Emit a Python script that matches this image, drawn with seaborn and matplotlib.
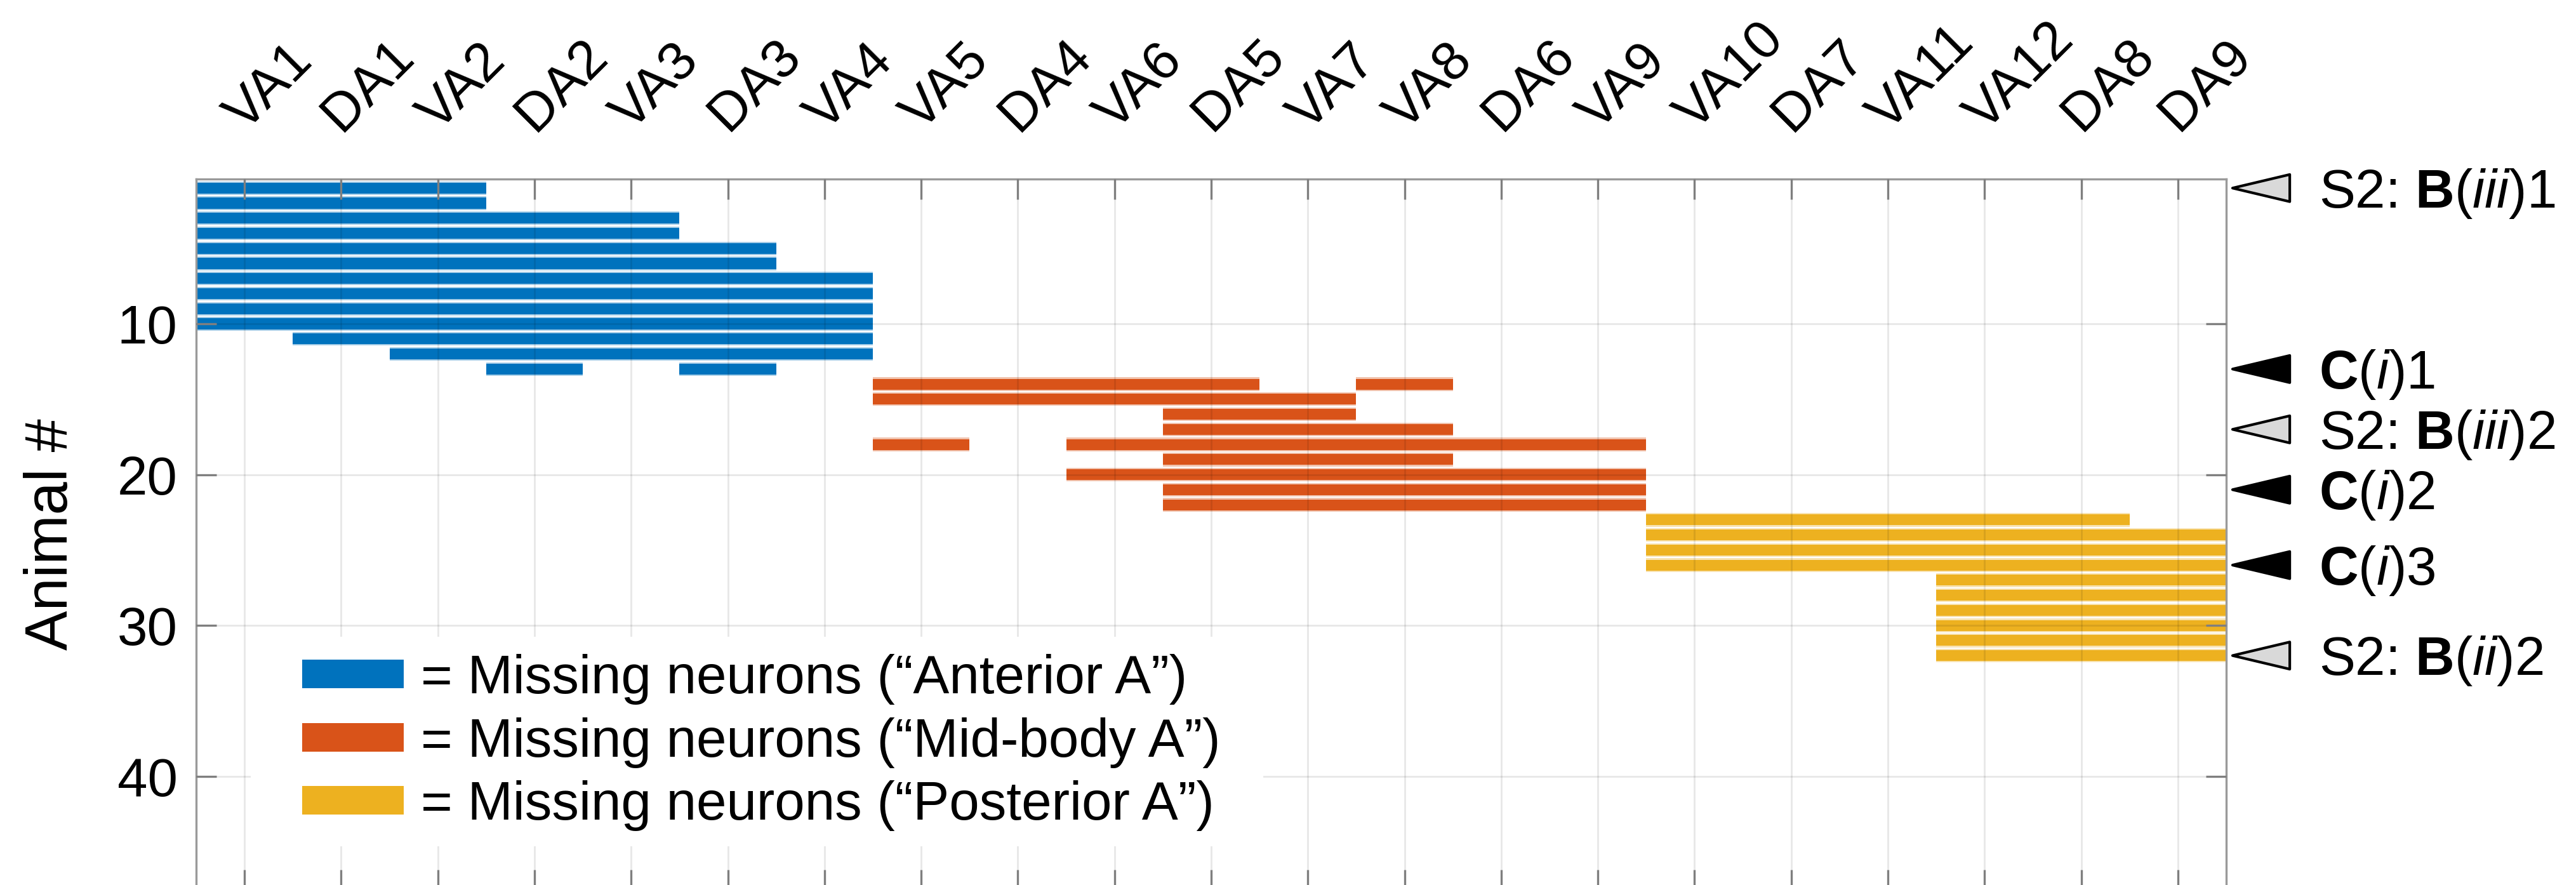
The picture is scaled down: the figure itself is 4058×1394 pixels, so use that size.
import matplotlib
matplotlib.use("Agg")
import matplotlib.pyplot as plt
import matplotlib.transforms as mtransforms
from matplotlib.patches import Patch, Polygon, Rectangle
import numpy as np
import seaborn as sns

# neuron order along the body
neurons = ["VA1", "DA1", "VA2", "DA2", "VA3", "DA3", "VA4", "VA5", "DA4", "VA6", "DA5",
           "VA7", "VA8", "DA6", "VA9", "VA10", "DA7", "VA11", "VA12", "DA8", "DA9"]

# missing-neuron runs per animal (1-based neuron index, inclusive)
anterior_rows = [1, 2, 3, 4, 5, 6, 7, 8, 9, 10, 11, 12, 13, 13]
anterior_start = [1, 1, 1, 1, 1, 1, 1, 1, 1, 1, 2, 3, 4, 6]
anterior_end = [3, 3, 5, 5, 6, 6, 7, 7, 7, 7, 7, 7, 4, 6]

midbody_rows = [14, 14, 15, 16, 17, 18, 18, 19, 20, 21, 22]
midbody_start = [8, 13, 8, 11, 11, 8, 10, 11, 10, 11, 11]
midbody_end = [11, 13, 12, 12, 13, 8, 15, 13, 15, 15, 15]

posterior_rows = [23, 24, 25, 26, 27, 28, 29, 30, 31, 32]
posterior_start = [16, 16, 16, 16, 19, 19, 19, 19, 19, 19]
posterior_end = [20, 21, 21, 21, 21, 21, 21, 21, 21, 21]

group_labels = ["= Missing neurons (\u201cAnterior A\u201d)",
                "= Missing neurons (\u201cMid-body A\u201d)",
                "= Missing neurons (\u201cPosterior A\u201d)"]
colors = sns.color_palette(["#0072BD", "#D95319", "#EDB120"])

# arrowheads on the right margin
marker_rows = [1, 13, 17, 21, 26, 32]
marker_text = [r"S2: $\mathbf{B}$($\mathit{iii}$)1",
               r"$\mathbf{C}$($\mathit{i}$)1",
               r"S2: $\mathbf{B}$($\mathit{iii}$)2",
               r"$\mathbf{C}$($\mathit{i}$)2",
               r"$\mathbf{C}$($\mathit{i}$)3",
               r"S2: $\mathbf{B}$($\mathit{ii}$)2"]
marker_black = [False, True, False, True, True, False]

sns.set_theme(style="white")
plt.rcParams['font.family'] = ['Liberation Sans', 'DejaVu Sans']
plt.rcParams['mathtext.fontset'] = 'custom'
plt.rcParams['mathtext.rm'] = 'Liberation Sans'
plt.rcParams['mathtext.it'] = 'Liberation Sans:italic'
plt.rcParams['mathtext.bf'] = 'Liberation Sans:bold'
plt.rcParams['text.color'] = 'black'
plt.rcParams['axes.labelcolor'] = 'black'
plt.rcParams['xtick.labelcolor'] = 'black'
plt.rcParams['ytick.labelcolor'] = 'black'

W, H, DPI = 4058, 1394, 300
fig = plt.figure(figsize=(W / DPI, H / DPI), dpi=DPI)
fig.patch.set_facecolor("white")
ax = fig.add_axes([309 / W, 1 - 1402 / H, 3198 / W, 1120 / H])

FS = 20.5

groups = [(anterior_rows, anterior_start, anterior_end),
          (midbody_rows, midbody_start, midbody_end),
          (posterior_rows, posterior_start, posterior_end)]
for (rows, st, en), c in zip(groups, colors):
    st = np.array(st)
    en = np.array(en)
    # soft halo then solid core
    ax.barh(rows, en - st + 1, left=st - 0.5, height=0.9, color=c, alpha=0.35, linewidth=0, zorder=1)
    ax.barh(rows, en - st + 1, left=st - 0.5, height=0.72, color=c, linewidth=0, zorder=1.2)

ax.set_xlim(0.5, len(neurons) + 0.5)
ax.set_ylim(47.55, 0.4)

ax.set_xticks(np.arange(1, len(neurons) + 1))
ax.set_xticklabels(neurons, fontsize=FS, rotation=45, ha='left', va='baseline',
                   rotation_mode='anchor', color='black')
ax.set_yticks([10, 20, 30, 40])
ax.set_yticklabels(["10", "20", "30", "40"], fontsize=FS, color='black')

ax.tick_params(axis='x', top=True, bottom=True, labeltop=True, labelbottom=False,
               direction='in', length=7.7, width=0.8, color='#7f7f7f', pad=17.6,
               labelcolor='black')
ax.tick_params(axis='y', left=True, right=True, direction='in', length=7.7, width=0.8,
               color='#7f7f7f', pad=7, labelcolor='black')
for s in ax.spines.values():
    s.set_color('#9a9a9a')
    s.set_linewidth(0.8)

ax.set_axisbelow(False)
ax.grid(True, color='black', alpha=0.09, linewidth=0.7)

ax.set_ylabel("Animal #", fontsize=22.5, labelpad=14, color='black')

# arrowheads + labels outside the right edge
trans = mtransforms.blended_transform_factory(ax.transAxes, ax.transData)
text_off = mtransforms.ScaledTranslation(0, -7.3 / 72, fig.dpi_scale_trans)
for r, t, blk in zip(marker_rows, marker_text, marker_black):
    tri = Polygon([(1.0031, r), (1.0313, r - 0.9), (1.0313, r + 0.9)], closed=True,
                  transform=trans, clip_on=False,
                  facecolor='black' if blk else '#d9d9d9', edgecolor='black',
                  linewidth=1.0, joinstyle='round', zorder=5)
    ax.add_patch(tri)
    ax.text(1.0457, r, t, transform=trans + text_off, fontsize=FS, ha='left',
            va='baseline', clip_on=False, color='black')

# white box behind the legend (hides grid)
fig.patches.append(Rectangle((395 / W, 1 - 1333 / H), 1595 / W, 330 / H,
                             transform=fig.transFigure, facecolor='white',
                             edgecolor='none', zorder=3))
handles = [Patch(facecolor=c, edgecolor='none') for c in colors]
leg = fig.legend(handles, group_labels, loc='upper left',
                 bbox_to_anchor=(476 / W, 1 - 1030 / H), frameon=False, fontsize=FS,
                 handlelength=1.87, handleheight=0.43, handletextpad=0.32,
                 labelspacing=0.23, borderpad=0, borderaxespad=0, labelcolor='black')
leg.set_zorder(6)

fig.savefig("out.png", dpi=DPI, facecolor="white")
